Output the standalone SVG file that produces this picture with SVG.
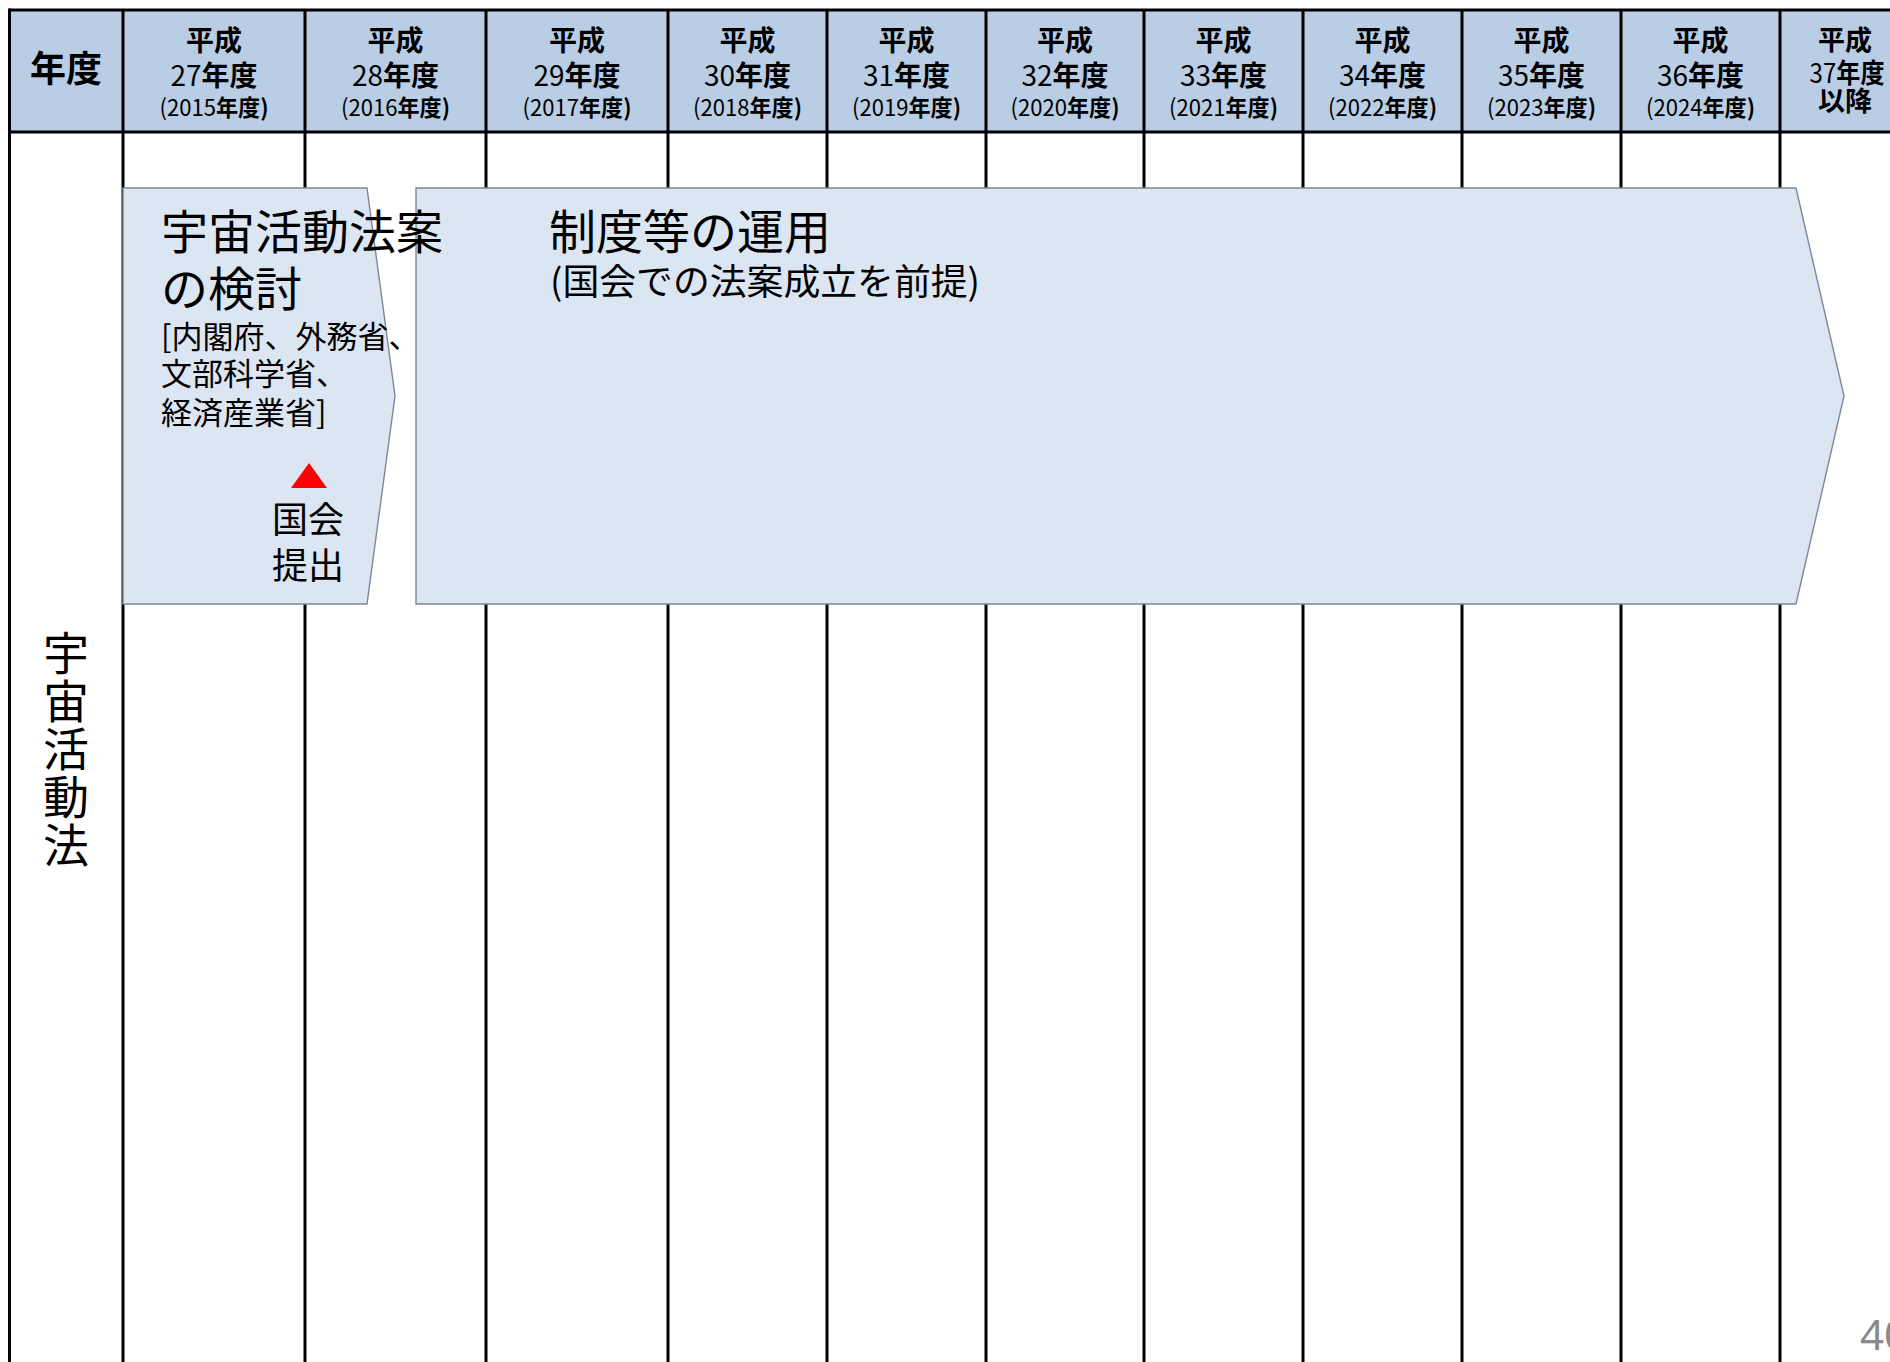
<svg xmlns="http://www.w3.org/2000/svg" width="1890" height="1362" viewBox="0 0 1890 1362">
<style>
  .grid { stroke: #000; stroke-width: 3; fill: none; }
  .hdr { fill: #B9CDE5; }
  .jp { font-family: "Noto Sans CJK JP", "Noto Sans", sans-serif; fill: #000; }
  .b { font-weight: bold; }
  .r { font-weight: normal; }
  .shape { fill: #DCE6F2; stroke: #7F8794; stroke-width: 1.4; }
  .mid { text-anchor: middle; }
</style>
<rect width="1890" height="1362" fill="#fff"/>
<g id="header-bg">
  <rect class="hdr" x="9" y="10" width="1881" height="122"/>
</g>
<g id="grid">
  <line class="grid" x1="9" y1="10" x2="1890" y2="10"/>
  <line class="grid" x1="9" y1="132" x2="1890" y2="132"/>
  <line class="grid" x1="9.5" y1="8.5" x2="9.5" y2="1362"/>
  <line class="grid" x1="123" y1="10" x2="123" y2="1362"/>
  <line class="grid" x1="305" y1="10" x2="305" y2="1362"/>
  <line class="grid" x1="486" y1="10" x2="486" y2="1362"/>
  <line class="grid" x1="668" y1="10" x2="668" y2="1362"/>
  <line class="grid" x1="827" y1="10" x2="827" y2="1362"/>
  <line class="grid" x1="986" y1="10" x2="986" y2="1362"/>
  <line class="grid" x1="1144" y1="10" x2="1144" y2="1362"/>
  <line class="grid" x1="1303" y1="10" x2="1303" y2="1362"/>
  <line class="grid" x1="1462" y1="10" x2="1462" y2="1362"/>
  <line class="grid" x1="1621" y1="10" x2="1621" y2="1362"/>
  <line class="grid" x1="1780" y1="10" x2="1780" y2="1362"/>
</g>
<g id="header-text" class="jp">
  <text class="b mid" x="66" y="82" font-size="36">年度</text>
  <g id="col-h27"><text class="b mid" x="214" y="50.5" font-size="28">平成</text>
    <text class="mid" x="214" y="86" font-size="28" textLength="87" lengthAdjust="spacingAndGlyphs"><tspan class="r">27</tspan><tspan class="b">年度</tspan></text>
    <text class="mid" x="214" y="116" font-size="23" textLength="109" lengthAdjust="spacingAndGlyphs"><tspan class="r">(2015</tspan><tspan class="b">年度)</tspan></text></g>
  <g id="col-h28"><text class="b mid" x="395.5" y="50.5" font-size="28">平成</text>
    <text class="mid" x="395.5" y="86" font-size="28" textLength="87" lengthAdjust="spacingAndGlyphs"><tspan class="r">28</tspan><tspan class="b">年度</tspan></text>
    <text class="mid" x="395.5" y="116" font-size="23" textLength="109" lengthAdjust="spacingAndGlyphs"><tspan class="r">(2016</tspan><tspan class="b">年度)</tspan></text></g>
  <g id="col-h29"><text class="b mid" x="577" y="50.5" font-size="28">平成</text>
    <text class="mid" x="577" y="86" font-size="28" textLength="87" lengthAdjust="spacingAndGlyphs"><tspan class="r">29</tspan><tspan class="b">年度</tspan></text>
    <text class="mid" x="577" y="116" font-size="23" textLength="109" lengthAdjust="spacingAndGlyphs"><tspan class="r">(2017</tspan><tspan class="b">年度)</tspan></text></g>
  <g id="col-h30"><text class="b mid" x="747.5" y="50.5" font-size="28">平成</text>
    <text class="mid" x="747.5" y="86" font-size="28" textLength="87" lengthAdjust="spacingAndGlyphs"><tspan class="r">30</tspan><tspan class="b">年度</tspan></text>
    <text class="mid" x="747.5" y="116" font-size="23" textLength="109" lengthAdjust="spacingAndGlyphs"><tspan class="r">(2018</tspan><tspan class="b">年度)</tspan></text></g>
  <g id="col-h31"><text class="b mid" x="906.5" y="50.5" font-size="28">平成</text>
    <text class="mid" x="906.5" y="86" font-size="28" textLength="87" lengthAdjust="spacingAndGlyphs"><tspan class="r">31</tspan><tspan class="b">年度</tspan></text>
    <text class="mid" x="906.5" y="116" font-size="23" textLength="109" lengthAdjust="spacingAndGlyphs"><tspan class="r">(2019</tspan><tspan class="b">年度)</tspan></text></g>
  <g id="col-h32"><text class="b mid" x="1065" y="50.5" font-size="28">平成</text>
    <text class="mid" x="1065" y="86" font-size="28" textLength="87" lengthAdjust="spacingAndGlyphs"><tspan class="r">32</tspan><tspan class="b">年度</tspan></text>
    <text class="mid" x="1065" y="116" font-size="23" textLength="109" lengthAdjust="spacingAndGlyphs"><tspan class="r">(2020</tspan><tspan class="b">年度)</tspan></text></g>
  <g id="col-h33"><text class="b mid" x="1223.5" y="50.5" font-size="28">平成</text>
    <text class="mid" x="1223.5" y="86" font-size="28" textLength="87" lengthAdjust="spacingAndGlyphs"><tspan class="r">33</tspan><tspan class="b">年度</tspan></text>
    <text class="mid" x="1223.5" y="116" font-size="23" textLength="109" lengthAdjust="spacingAndGlyphs"><tspan class="r">(2021</tspan><tspan class="b">年度)</tspan></text></g>
  <g id="col-h34"><text class="b mid" x="1382.5" y="50.5" font-size="28">平成</text>
    <text class="mid" x="1382.5" y="86" font-size="28" textLength="87" lengthAdjust="spacingAndGlyphs"><tspan class="r">34</tspan><tspan class="b">年度</tspan></text>
    <text class="mid" x="1382.5" y="116" font-size="23" textLength="109" lengthAdjust="spacingAndGlyphs"><tspan class="r">(2022</tspan><tspan class="b">年度)</tspan></text></g>
  <g id="col-h35"><text class="b mid" x="1541.5" y="50.5" font-size="28">平成</text>
    <text class="mid" x="1541.5" y="86" font-size="28" textLength="87" lengthAdjust="spacingAndGlyphs"><tspan class="r">35</tspan><tspan class="b">年度</tspan></text>
    <text class="mid" x="1541.5" y="116" font-size="23" textLength="109" lengthAdjust="spacingAndGlyphs"><tspan class="r">(2023</tspan><tspan class="b">年度)</tspan></text></g>
  <g id="col-h36"><text class="b mid" x="1700.5" y="50.5" font-size="28">平成</text>
    <text class="mid" x="1700.5" y="86" font-size="28" textLength="87" lengthAdjust="spacingAndGlyphs"><tspan class="r">36</tspan><tspan class="b">年度</tspan></text>
    <text class="mid" x="1700.5" y="116" font-size="23" textLength="109" lengthAdjust="spacingAndGlyphs"><tspan class="r">(2024</tspan><tspan class="b">年度)</tspan></text></g>
  <g id="col-h37"><text class="b mid" x="1845" y="49.5" font-size="27">平成</text>
    <text class="mid" x="1847" y="83" font-size="27" textLength="75" lengthAdjust="spacingAndGlyphs"><tspan class="r">37</tspan><tspan class="b">年度</tspan></text>
    <text class="b mid" x="1845" y="111" font-size="27">以降</text></g>
</g>
<g id="row-label">
  <text class="jp" x="66" y="630" font-size="46" writing-mode="vertical-rl" letter-spacing="2">宇宙活動法</text>
</g>
<g id="node-operation">
  <polygon class="shape" points="416,188 1796,188 1844,396 1796,604 416,604"/>
  <text class="jp" x="549" y="249" font-size="47">制度等の運用</text>
  <text class="jp" x="550" y="295" font-size="36" textLength="430" lengthAdjust="spacingAndGlyphs">(国会での法案成立を前提)</text>
</g>
<g id="node-study">
  <polygon class="shape" points="123,188 367,188 395,396 367,604 123,604"/>
  <text class="jp" x="161" y="249" font-size="47">宇宙活動法案</text>
  <text class="jp" x="161" y="306" font-size="47">の検討</text>
  <text class="jp" x="161" y="348" font-size="31">[内閣府、外務省、</text>
  <text class="jp" x="161" y="385" font-size="31">文部科学省、</text>
  <text class="jp" x="161" y="424" font-size="31">経済産業省]</text>
  <polygon points="309,463 327,488 291,488" fill="#FF0000"/>
  <text class="jp mid" x="308" y="533" font-size="36">国会</text>
  <text class="jp mid" x="308" y="579" font-size="36">提出</text>
</g>
<g id="connectors"></g>
<text x="1860" y="1350" font-family="Noto Sans, sans-serif" font-size="42" fill="#898989">40</text>
</svg>
